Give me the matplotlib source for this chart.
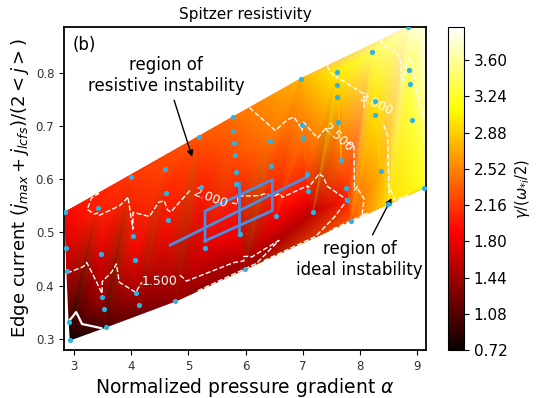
import matplotlib
matplotlib.use("Agg")
import matplotlib.pyplot as plt
import matplotlib.tri as mtri
from matplotlib.colors import Normalize
from matplotlib.cm import ScalarMappable

# scan points: normalized pressure gradient, edge current, growth rate
alpha = [
    2.84, 2.86, 2.87, 2.91, 2.93,
    3.42, 3.46, 3.49, 3.52, 3.55,
    4.00, 4.03, 4.07, 4.08, 4.14,
    4.59, 4.61, 4.64, 4.77,
    5.18, 5.22, 5.29,
    5.78, 5.78, 5.80, 5.82, 5.83, 5.84, 5.90, 5.99,
    6.43, 6.45, 6.53,
    6.97, 6.99, 7.00, 7.07, 7.09, 7.18,
    7.61, 7.61, 7.61, 7.62, 7.68, 7.76, 7.78, 7.84,
    8.21, 8.26, 8.27, 8.37, 8.49,
    8.84, 8.87, 8.88, 8.92, 9.13, 9.13,
]
edge_current = [
    0.538, 0.470, 0.427, 0.331, 0.298,
    0.546, 0.459, 0.379, 0.356, 0.322,
    0.605, 0.493, 0.448, 0.387, 0.364,
    0.620, 0.574, 0.524, 0.371,
    0.679, 0.585, 0.471,
    0.717, 0.690, 0.668, 0.645, 0.614, 0.591, 0.497, 0.432,
    0.672, 0.624, 0.530,
    0.789, 0.701, 0.678, 0.609, 0.578, 0.538,
    0.802, 0.777, 0.754, 0.707, 0.636, 0.583, 0.561, 0.522,
    0.839, 0.746, 0.721, 0.615, 0.554,
    0.886, 0.805, 0.779, 0.712, 0.584, 0.895,
]
growth = [
    1.90, 1.70, 1.52, 0.98, 0.72,
    2.05, 1.75, 1.48, 1.25, 1.03,
    2.15, 1.98, 1.80, 1.50, 1.33,
    2.22, 2.05, 1.97, 1.35,
    2.30, 2.03, 1.75,
    2.42, 2.38, 2.33, 2.27, 2.18, 2.10, 1.85, 1.40,
    2.45, 2.22, 1.85,
    2.75, 2.52, 2.47, 2.20, 1.95, 1.60,
    3.05, 2.95, 2.85, 2.60, 2.40, 2.10, 2.00, 2.30,
    3.40, 3.00, 2.97, 2.75, 2.95,
    3.75, 3.40, 3.35, 3.30, 3.20, 3.93,
]

dashed_levels = [1.5, 2.0, 2.5, 3.0, 3.5]
labelled_levels = [1.5, 2.0, 2.5, 3.0]
cbar_ticks = [0.72, 1.08, 1.44, 1.80, 2.16, 2.52, 2.88, 3.24, 3.60]

# linear trend of the edge current with alpha, its window and spread
fit_alpha = [4.68, 7.07]
fit_current = [0.476, 0.604]
box_alpha = [5.29, 5.29, 6.47, 6.47, 5.29]
box_current = [0.484, 0.540, 0.599, 0.541, 0.484]
bar_alpha = [5.88, 5.88]
bar_current = [0.496, 0.592]

fig = plt.figure(figsize=(5.39, 3.98), dpi=100)
ax = fig.add_axes([0.1187, 0.1206, 0.6716, 0.8116])
cax = fig.add_axes([0.8312, 0.1206, 0.0297, 0.8116])

tri = mtri.Triangulation(alpha, edge_current)
norm = Normalize(vmin=min(growth), vmax=max(growth))
ax.tripcolor(tri, growth, shading="gouraud", cmap="hot", norm=norm)

cs = ax.tricontour(tri, growth, levels=dashed_levels, colors="white",
                   linestyles="--", linewidths=1.0)
ax.tricontour(tri, growth, levels=[1.0], colors="white", linewidths=1.6)
label_spots = [(4.5, 0.408), (5.27, 0.541), (7.51, 0.674), (8.35, 0.744)]
ax.clabel(cs, levels=labelled_levels, fmt="%.3f", fontsize=9,
          colors="white", manual=label_spots)

blue = "#4a8de6"
ax.plot(fit_alpha, fit_current, color=blue, lw=2, zorder=3)
ax.plot(box_alpha, box_current, color=blue, lw=2, zorder=3)
ax.plot(bar_alpha, bar_current, color=blue, lw=2, zorder=3)

ax.scatter(alpha, edge_current, s=14, color="#2cb3e6", zorder=4, lw=0)

ax.annotate("region of\nresistive instability", xy=(5.08, 0.637),
            xytext=(4.61, 0.795), ha="center", va="center", fontsize=12,
            arrowprops=dict(arrowstyle="-|>", color="black", lw=1,
                            mutation_scale=9))
ax.annotate("region of\nideal instability", xy=(8.58, 0.569),
            xytext=(8.0, 0.449), ha="center", va="center", fontsize=12,
            arrowprops=dict(arrowstyle="-|>", color="black", lw=1,
                            mutation_scale=9))
ax.text(0.025, 0.944, "(b)", transform=ax.transAxes, fontsize=12,
        va="center", ha="left")

ax.set_xlim(2.82, 9.16)
ax.set_ylim(0.279, 0.886)
ax.set_xticks([3, 4, 5, 6, 7, 8, 9])
ax.set_yticks([0.3, 0.4, 0.5, 0.6, 0.7, 0.8])
ax.tick_params(labelsize=8.5, labelcolor="#333333")
for sp in ax.spines.values():
    sp.set_linewidth(1.3)
ax.set_title("Spitzer resistivity", fontsize=11)
ax.set_xlabel(r"Normalized pressure gradient $\alpha$", fontsize=13.5,
              labelpad=2)
ax.set_ylabel(r"Edge current $(j_{max} + j_{lcfs})/(2 < j >)$", fontsize=13,
              labelpad=3)

cb = fig.colorbar(ScalarMappable(norm=norm, cmap="hot"), cax=cax,
                  ticks=cbar_ticks)
cb.ax.set_yticklabels(["%.2f" % t for t in cbar_ticks])
cb.ax.tick_params(labelsize=11)
cb.set_label(r"$\gamma/(\omega_{*i}/2)$", fontsize=10.5)

fig.savefig("out.png", dpi=100)
